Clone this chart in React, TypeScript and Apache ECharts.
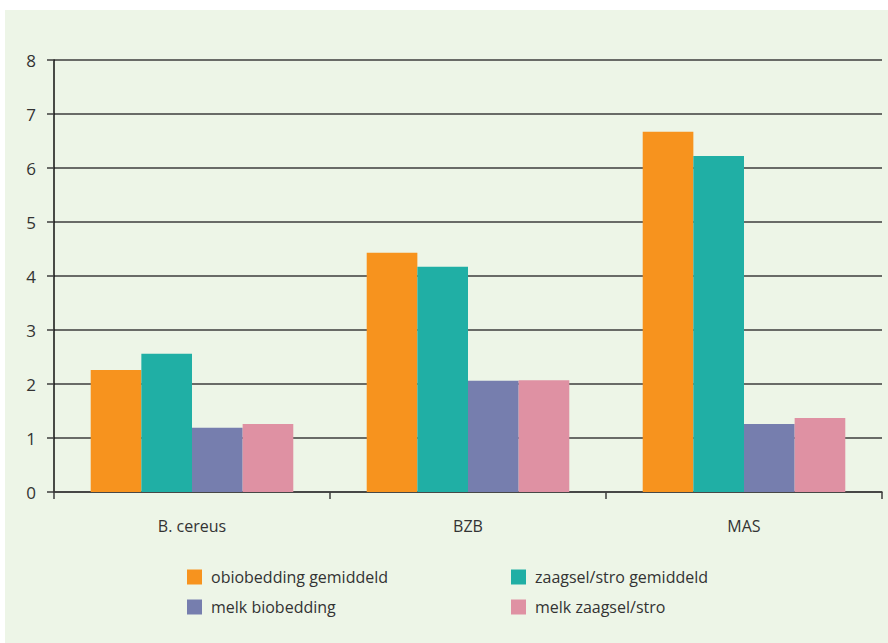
import React, { useEffect, useRef } from "react";
import * as echarts from "echarts";

const categories = ["B. cereus", "BZB", "MAS"];
const seriesNames = [
  "obiobedding gemiddeld",
  "zaagsel/stro gemiddeld",
  "melk biobedding",
  "melk zaagsel/stro",
];
const obiobeddingGemiddeld = [2.26, 4.43, 6.67];
const zaagselStroGemiddeld = [2.56, 4.17, 6.22];
const melkBiobedding = [1.19, 2.06, 1.26];
const melkZaagselStro = [1.26, 2.07, 1.37];
const yTicks = [0, 1, 2, 3, 4, 5, 6, 7, 8];

const colors = ["#F7931E", "#20AFA5", "#767EAE", "#DF91A3"];
const FONT = "Open Sans";
const TEXT = "#333333";
const GRID = "#3d3d3d";

export default function App() {
  const ref = useRef<HTMLDivElement>(null);
  useEffect(() => {
    if (!ref.current) return;
    const chart = echarts.init(ref.current, undefined, { renderer: "svg" });
    const values = [obiobeddingGemiddeld, zaagselStroGemiddeld, melkBiobedding, melkZaagselStro];
    const legendStyle = {
      orient: "vertical" as const,
      itemWidth: 15,
      itemHeight: 15,
      itemGap: 14,
      icon: "rect",
      textStyle: { fontFamily: FONT, fontSize: 16, color: TEXT, padding: [0, 0, 0, 4] },
      padding: 0,
    };
    chart.setOption({
      animation: false,
      backgroundColor: "#ffffff",
      color: colors,
      graphic: [
        {
          type: "rect",
          z: -10,
          silent: true,
          shape: { x: 5, y: 10, width: 883, height: 633 },
          style: { fill: "#EDF5E7" },
        },
      ],
      grid: { left: 54, right: 6, top: 60, bottom: 151, containLabel: false },
      legend: [
        { ...legendStyle, data: [seriesNames[0], seriesNames[2]], left: 187, top: 569 },
        { ...legendStyle, data: [seriesNames[1], seriesNames[3]], left: 511, top: 569 },
      ],
      xAxis: {
        type: "category",
        data: categories,
        axisLine: { show: true, lineStyle: { color: GRID, width: 1.5 } },
        axisTick: { show: true, length: 7, lineStyle: { color: GRID, width: 1.5 } },
        axisLabel: { fontFamily: FONT, fontSize: 16, color: TEXT, margin: 26 },
      },
      yAxis: {
        type: "value",
        min: yTicks[0],
        max: yTicks[yTicks.length - 1],
        interval: 1,
        axisLine: { show: true, lineStyle: { color: "#111111", width: 1.5 } },
        axisTick: { show: true, length: 7, lineStyle: { color: GRID, width: 1.5 } },
        splitLine: { show: true, lineStyle: { color: GRID, width: 1.5 } },
        axisLabel: { fontFamily: FONT, fontSize: 17, color: TEXT, margin: 18 },
      },
      series: seriesNames.map((name, i) => ({
        name,
        type: "bar",
        data: values[i],
        barGap: "0%",
        barCategoryGap: "26.6%",
        itemStyle: { color: colors[i] },
      })),
    });
    return () => chart.dispose();
  }, []);
  return (
    <div
      ref={ref}
      style={{ position: "absolute", left: 0, top: 0, width: 888, height: 643 }}
    />
  );
}
